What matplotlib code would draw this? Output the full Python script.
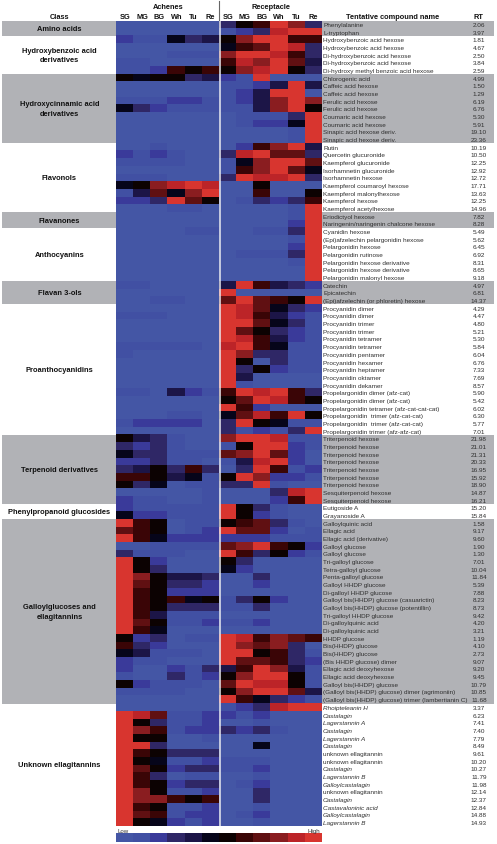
import numpy as np
import matplotlib
matplotlib.use('Agg')
import matplotlib.pyplot as plt
from matplotlib.colors import ListedColormap

plt.rcParams['font.family'] = ['Liberation Sans', 'DejaVu Sans']

# class names and how many rows each covers, top to bottom
classes = ['Amino acids', 'Hydroxybenzoic acid\nderivatives', 'Hydroxycinnamic acid\nderivatives',
           'Flavonols', 'Flavanones', 'Anthocyanins', 'Flavan 3-ols', 'Proanthocyanidins',
           'Terpenoid derivatives', 'Phenylpropanoid glucosides',
           'Galloylglucoses and\nellagitannins', 'Unknown ellagitannins']
class_sizes = [2, 5, 9, 9, 2, 7, 3, 17, 9, 2, 24, 16]
class_shaded = [True, False, True, False, True, False, True, False, True, False, True, False]

stages = ['SG', 'MG', 'BG', 'Wh', 'Tu', 'Re']

compounds = [
    'Phenylalanine', 'L-tryptophan',
    'Hydroxybenzoic acid hexose', 'Hydroxybenzoic acid hexose', 'Di-hydroxybenzoic acid hexose',
    'Di-hydroxybenzoic acid hexose', 'Di-hydroxy methyl benzoic acid hexose',
    'Chlorogenic acid', 'Caffeic acid hexose', 'Caffeic acid hexose', 'Ferulic acid hexose',
    'Ferulic acid hexose', 'Coumaric acid hexose', 'Coumaric acid hexose',
    'Sinapic acid hexose deriv.', 'Sinapic acid hexose deriv.',
    'Rutin', 'Quercetin glucuronide', 'Kaempferol glucuronide', 'Isorhamnetin glucuronide',
    'Isorhamnetin hexose', 'Kaempferol coumaroyl hexose', 'Kaempferol malonylhexose',
    'Kaempferol hexose', 'Kaempferol acetylhexose',
    'Eriodictyol hexose', 'Naringenin/naringenin chalcone hexose',
    'Cyanidin hexose', '(Epi)afzelechin pelargonidin hexose', 'Pelargonidin hexose',
    'Pelargonidin rutinose', 'Pelargonidin hexose derivative', 'Pelargonidin hexose derivative',
    'Pelargonidin malonyl hexose',
    'Catechin', 'Epicatechin', '(Epi)afzelechin (or phloretin) hexose',
    'Procyanidin dimer', 'Procyanidin dimer', 'Procyanidin trimer', 'Procyanidin trimer',
    'Procyanidin tetramer', 'Procyanidin tetramer', 'Procyanidin pentamer', 'Procyanidin hexamer',
    'Procyanidin heptamer', 'Procyanidin oktamer', 'Procyanidin dekamer',
    'Propelargonidin dimer (afz-cat)', 'Propelargonidin dimer (afz-cat)',
    'Propelargonidin tetramer (afz-cat-cat-cat)', 'Propelargonidin  trimer (afz-cat-cat)',
    'Propelargonidin  trimer (afz-cat-cat)', 'Propelargonidin trimer (afz-afz-cat)',
    'Triterpenoid hexose', 'Triterpenoid hexose', 'Triterpenoid hexose', 'Triterpenoid hexose',
    'Triterpenoid hexose', 'Triterpenoid hexose', 'Triterpenoid hexose',
    'Sesquiterpenoid hexose', 'Sesquiterpenoid hexose',
    'Eutigoside A', 'Grayanoside A',
    'Galloylquinic acid', 'Ellagic acid', 'Ellagic acid (derivative)', 'Galloyl glucose',
    'Galloyl glucose', 'Tri-galloyl glucose', 'Tetra-galloyl glucose', 'Penta-galloyl glucose',
    'Galloyl HHDP glucose', 'Di-galloyl HHDP glucose', 'Galloyl bis(HHDP) glucose (casuarictin)',
    'Galloyl bis(HHDP) glucose (potentillin)', 'Tri-galloyl HHDP glucose', 'Di-galloylquinic acid',
    'Di-galloylquinic acid', 'HHDP glucose', 'Bis(HHDP) glucose', 'Bis(HHDP) glucose',
    '(Bis HHDP glucose) dimer', 'Ellagic acid deoxyhexose', 'Ellagic acid deoxyhexose',
    'Galloyl bis(HHDP) glucose', '(Galloyl bis(HHDP) glucose) dimer (agrimoniin)',
    '(Galloyl bis(HHDP) glucose) trimer (lambertianin C)',
    'Rhoipteleanin H', 'Castalagin', 'Lagerstannin A', 'Castalagin', 'Lagerstannin A', 'Castalagin',
    'unknown ellagitannin', 'unknown ellagitannin', 'Castalagin', 'Lagerstannin B',
    'Galloylcastalagin', 'unknown ellagitannin', 'Castalagin', 'Castavaloninic acid',
    'Galloylcastalagin', 'Lagerstannin B',
]

rt = ['2.06', '3.97', '1.81', '4.67', '2.50', '3.84', '2.59', '4.99', '1.50', '1.29', '6.19', '6.76',
      '5.30', '5.91', '19.10', '23.36', '10.19', '10.50', '12.25', '12.92', '12.72', '17.71', '13.63',
      '12.25', '14.96', '7.82', '8.28', '5.49', '5.62', '6.45', '6.92', '8.31', '8.65', '9.18', '4.97',
      '6.81', '14.37', '4.29', '4.47', '4.80', '5.21', '5.30', '5.84', '6.04', '6.76', '7.33', '7.69',
      '8.57', '5.90', '5.42', '6.02', '6.30', '5.77', '7.01', '21.98', '21.01', '21.31', '20.33', '16.95',
      '15.92', '18.90', '14.87', '16.21', '15.20', '15.84', '1.58', '9.17', '9.60', '1.90', '1.30', '7.01',
      '10.04', '11.84', '5.39', '7.88', '8.23', '8.73', '9.42', '4.20', '3.21', '1.19', '4.10', '2.73',
      '9.07', '9.20', '9.45', '10.79', '10.85', '11.68', '3.37', '6.23', '7.41', '7.40', '7.79', '8.49',
      '9.61', '10.20', '10.27', '11.79', '11.98', '12.14', '12.37', '12.84', '14.88', '14.93']

italic_names = ['Rhoipteleanin H', 'Castalagin', 'Lagerstannin A', 'Lagerstannin B',
                'Galloylcastalagin', 'Castavaloninic acid']

# heat levels, 0 = low (blue), 11 = high (red)
achenes = [
    [0,0,0,0,0,0], [0,0,0,0,0,0],
    [2,1,1,5,3,4], [0,0,0,0,0,0], [0,0,0,1,1,1], [1,1,0,0,0,0], [1,1,2,7,6,7],
    [6,5,6,6,3,4], [0,0,0,0,0,0], [0,0,0,0,0,0], [1,1,1,2,2,1], [5,3,2,1,1,1],
    [0,0,0,0,0,0], [0,0,0,0,0,0], [0,0,0,0,0,0], [0,0,0,0,0,0],
    [0,0,1,0,0,0], [2,1,2,1,0,0], [1,1,1,1,0,0], [0,0,0,0,0,0], [1,1,1,0,0,0],
    [5,6,9,10,11,10], [1,4,8,5,9,11], [2,2,3,11,8,6], [0,0,0,1,1,0],
    [0,0,0,0,0,0], [0,0,0,0,0,0],
    [0,0,0,0,1,1], [0,0,0,0,0,0], [0,0,0,0,0,0], [0,0,0,0,0,0], [0,0,0,0,0,0], [0,0,0,0,0,0], [0,0,0,0,0,0],
    [1,1,0,0,0,0], [0,0,0,0,0,0], [0,0,1,1,0,0],
    [0,0,0,0,0,0], [1,1,1,0,0,0], [0,0,0,0,0,0], [0,0,0,0,0,0], [0,0,0,0,0,0], [1,1,1,1,1,0],
    [1,0,0,0,0,0], [0,0,0,0,0,0], [0,0,0,0,0,0], [0,0,0,0,0,0], [0,0,0,0,0,0],
    [1,1,0,4,2,1], [0,0,0,0,0,0], [0,0,0,0,0,0], [0,0,0,1,1,0], [1,2,2,2,2,0], [0,0,0,0,0,0],
    [6,4,3,1,0,0], [3,2,3,1,0,0], [5,3,3,1,1,1], [2,2,3,1,1,0], [3,4,6,3,7,3], [7,7,6,4,5,1],
    [6,3,5,0,1,1], [0,0,0,0,0,1], [2,1,1,0,0,1],
    [2,1,1,1,1,1], [5,2,2,1,1,1],
    [11,7,6,0,1,1], [8,7,6,0,1,2], [11,7,5,2,2,2], [0,0,1,1,1,1], [3,1,1,1,0,0], [11,6,2,0,0,0],
    [11,6,3,0,0,0], [11,9,6,4,4,3], [11,8,6,3,3,2], [11,7,6,2,2,2], [11,7,6,7,5,6], [11,7,6,3,3,3],
    [11,7,4,1,1,1], [11,8,6,1,1,2], [11,7,5,0,0,0], [6,2,3,0,1,1], [7,3,2,0,0,0], [5,4,1,1,1,0],
    [2,1,1,0,0,0], [2,0,0,2,1,3], [1,0,0,3,1,2], [6,2,1,1,1,0], [1,1,1,1,0,0], [0,0,0,0,0,0],
    [0,0,0,0,0,0], [11,10,8,1,1,2], [11,6,3,1,1,2], [11,9,7,1,2,2], [11,6,6,0,0,1], [11,11,3,0,0,0],
    [11,7,6,3,3,3], [11,6,5,1,1,2], [11,8,6,2,3,3], [11,7,3,0,1,1], [11,7,6,2,3,3], [11,9,6,1,1,2],
    [11,9,9,7,6,7], [11,7,6,1,1,2], [11,8,7,1,2,2], [11,6,5,2,1,2],
]

receptacle = [
    [3,6,7,11,9,3], [1,2,3,10,11,11],
    [6,9,11,11,7,7], [5,7,8,11,10,3], [9,11,11,10,7,3], [7,10,9,11,8,4], [6,9,10,11,6,3],
    [2,1,11,0,0,0], [1,1,2,4,11,4], [1,2,4,11,11,0], [1,2,4,9,11,9], [1,1,4,9,11,6],
    [0,1,1,1,3,11], [0,1,2,2,5,11], [0,0,0,0,1,11], [0,0,0,0,1,11],
    [0,2,7,9,11,4], [3,10,11,8,8,3], [1,5,9,11,11,8], [1,7,9,11,8,5], [3,11,10,10,11,3],
    [0,0,6,0,0,0], [0,0,7,0,0,6], [0,1,3,2,3,7], [0,0,0,0,1,11],
    [0,0,0,0,1,11], [0,0,0,0,2,11],
    [0,0,1,1,3,11], [0,0,0,0,1,11], [0,0,0,0,2,11], [0,1,1,1,3,11], [0,0,0,0,1,11], [0,0,0,0,0,11], [0,0,0,0,0,11],
    [4,11,7,4,3,2], [11,0,0,0,0,0], [8,11,8,7,6,11],
    [11,10,8,5,3,2], [11,10,7,4,2,1], [11,11,8,5,3,1], [11,8,6,3,2,1], [11,10,7,4,2,1], [10,11,7,5,1,1],
    [11,9,3,3,1,1], [11,6,0,3,1,1], [11,3,6,2,1,1], [11,4,0,0,0,0], [11,1,0,0,0,0],
    [7,11,10,11,7,3], [6,8,11,10,7,6], [11,7,2,0,0,0], [5,8,10,7,11,6], [3,11,6,5,1,1], [3,1,2,1,3,11],
    [9,11,11,10,1,1], [1,6,11,11,2,1], [8,9,11,8,2,0], [1,4,10,11,2,0], [0,3,11,7,1,2], [6,11,9,2,2,1],
    [3,3,11,1,0,0], [0,0,0,3,10,11], [0,0,0,2,7,11],
    [11,6,3,1,0,0], [11,6,2,1,0,0],
    [6,7,8,3,1,0], [11,8,8,2,0,1], [2,2,2,1,1,1], [8,9,11,7,6,2], [11,7,3,6,2,1], [6,3,0,0,0,0],
    [5,2,0,0,0,0], [0,0,3,0,0,0], [0,0,2,0,0,0], [0,0,0,0,0,0], [1,3,6,2,0,0], [1,1,3,0,0,0],
    [0,0,0,0,0,0], [1,1,2,0,0,0], [0,0,0,0,0,0], [11,10,7,9,8,7], [11,9,8,9,3,0], [11,11,6,7,3,1],
    [11,8,8,7,3,2], [4,7,11,9,4,1], [6,9,11,11,6,1], [8,11,10,10,6,1], [6,9,11,11,8,4], [11,7,5,3,2,1],
    [1,2,3,10,11,11], [2,1,2,0,0,0], [0,0,1,0,0,0], [3,2,3,1,0,0], [0,0,0,0,0,0], [0,0,5,0,0,0],
    [0,0,0,0,0,0], [1,1,1,0,0,0], [1,1,2,0,0,0], [0,0,1,0,0,0], [0,1,2,0,0,0], [0,0,3,0,0,0],
    [0,0,3,0,0,0], [0,0,1,0,0,0], [0,1,2,0,0,0], [0,0,1,0,0,0],
]

scale_levels = list(range(12))

W, H = 497, 845
n_rows = len(compounds)
heat_left, heat_right = 116.3, 322.0
heat_top, heat_bottom = 21.5, 827.3
text_dark = '#2f2f2f'
name_size = 4.55
head_size = 5.3

heat_colors = ['#4456A5', '#4150A3', '#3A3A9A', '#2F2766', '#1C1547', '#06051A',
               '#0C0202', '#3A0506', '#601012', '#8A1D20', '#BC2428', '#D8352F']
cmap = ListedColormap(heat_colors)


def px_axes(left, top, right, bottom):
    # axes placed with pixel positions measured from the top left corner
    return fig.add_axes([left / W, 1 - bottom / H, (right - left) / W, (bottom - top) / H])


fig = plt.figure(figsize=(W / 100, H / 100), dpi=100)

# background axes: full width, rows on y, so bands and labels follow the rows
bg = px_axes(0, heat_top, W, heat_bottom)
bg.set_xlim(0, W)
bg.set_ylim(n_rows, 0)
bg.axis('off')

start = 0
for name, size, shaded in zip(classes, class_sizes, class_shaded):
    if shaded:
        bg.fill_between([2.4, 494], start, start + size, color='#B1B2B6', lw=0)
    bg.text(59.4, start + size / 2, name, ha='center', va='center', fontsize=5.45,
            fontweight='bold', color='#111111', linespacing=1.55)
    start += size

for i, (name, time) in enumerate(zip(compounds, rt)):
    style = 'italic' if name in italic_names else 'normal'
    bg.text(323, i + 0.5, name, ha='left', va='center', fontsize=name_size, style=style, color=text_dark)
    bg.text(478.8, i + 0.5, time, ha='center', va='center', fontsize=name_size, color=text_dark)

# heat map
ax = px_axes(heat_left, heat_top, heat_right, heat_bottom)
data = np.hstack([np.array(achenes), np.array(receptacle)])
ax.imshow(data, cmap=cmap, vmin=-0.5, vmax=11.5, aspect='auto', interpolation='nearest',
          extent=(0, 12, n_rows, 0))
ax.axvline(6.03, color='#E9EAF0', lw=1.1)
ax.axis('off')

# divider continues above the heat map in grey
bg.plot([219.4, 219.4], [-2.48, 0], color='#666666', lw=0.8, clip_on=False)

# headers
for offset, group in zip([0, 6], ['Achenes', 'Receptacle']):
    ax.text(offset + 3, -1.82, group, ha='center', va='center', fontsize=head_size, fontweight='bold',
            color='#111111', clip_on=False)
    for j, stage in enumerate(stages):
        ax.text(offset + j + 0.5, -0.58, stage, ha='center', va='center', fontsize=head_size,
                fontweight='bold', color='#111111', clip_on=False)
bg.text(59.3, -0.58, 'Class', ha='center', va='center', fontsize=head_size, fontweight='bold', color='#111111')
bg.text(392.7, -0.58, 'Tentative compound name', ha='center', va='center', fontsize=head_size,
        fontweight='bold', color='#111111')
bg.text(478.8, -0.58, 'RT', ha='center', va='center', fontsize=head_size, fontweight='bold', color='#111111')

# colour scale
cb = px_axes(heat_left, 834, heat_right, 842.8)
cb.imshow([scale_levels], cmap=cmap, vmin=-0.5, vmax=11.5, aspect='auto', interpolation='nearest')
cb.axis('off')
fig.text(117.5 / W, 1 - 831.8 / H, 'Low', ha='left', va='center', fontsize=4.4, color=text_dark)
fig.text(320.5 / W, 1 - 831.8 / H, 'High', ha='right', va='center', fontsize=4.4, color=text_dark)

fig.savefig('out.png', dpi=100)
